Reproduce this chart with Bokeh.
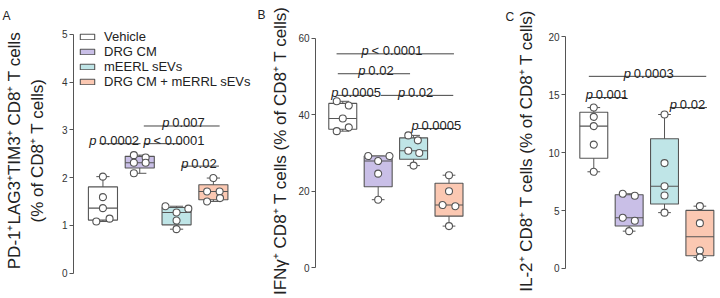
import numpy as np
from bokeh.plotting import figure
from bokeh.layouts import row
from bokeh.models import FixedTicker, Legend, LegendItem, Title, Range1d
from bokeh.core.properties import value
from bokeh.embed import file_html
from bokeh.resources import INLINE

FONT = "Liberation Sans"

# ---------------- data ----------------
groups = ["Vehicle", "DRG CM", "mEERL sEVs", "DRG CM + mERRL sEVs"]
colors = ["#ffffff", "#c9bfe7", "#bfe5e7", "#fbc8b2"]

# Panel A
a_vehicle = [2.02, 1.59, 1.36, 1.08, 1.14]
a_drg = [2.47, 2.42, 2.31, 2.31, 2.09]
a_meerl = [1.40, 1.35, 1.27, 1.10, 0.92]
a_combo = [1.99, 1.71, 1.71, 1.57, 1.50]
a_ticks = [0, 1, 2, 3, 4, 5]
a_pvalues = ["0.0002", "< 0.0001", "0.007", "0.02"]
a_ylabel = "PD-1\u207aLAG3\u207aTIM3\u207a CD8\u207a T cells\n(% of CD8\u207a T cells)"

# Panel B
b_vehicle = [43.5, 42.4, 39.0, 36.7, 35.7]
b_drg = [29.2, 29.2, 27.9, 24.6, 17.8]
b_meerl = [34.6, 33.3, 30.6, 30.0, 26.7]
b_combo = [24.2, 20.0, 16.4, 16.1, 10.9]
b_ticks = [0, 20, 40, 60]
b_pvalues = ["< 0.0001", "0.02", "0.0005", "0.02", "0.0005"]
b_ylabel = "IFN\u03b3\u207a CD8\u207a T cells (% of CD8\u207a T cells)"

# Panel C
c_vehicle = [13.9, 13.1, 12.3, 10.7, 8.35]
c_drg = [6.45, 6.28, 4.38, 4.12, 3.22]
c_meerl = [13.3, 9.1, 7.1, 6.3, 4.82]
c_combo = [5.38, 3.91, 1.55, 0.95]
c_ticks = [0, 5, 10, 15, 20]
c_pvalues = ["0.0003", "0.001", "0.02"]
c_ylabel = "IL-2\u207a CD8\u207a T cells (% of CD8\u207a T cells)"

# ---------------- layout (positions only) ----------------
a_jitter = [[0, 0, 0, -0.18, 0.18], [-0.16, 0.16, -0.16, 0.16, -0.16],
            [-0.3, 0.32, 0, 0, 0], [0, -0.17, 0.17, 0.18, -0.17]]
b_jitter = [[-0.17, 0.17, 0, 0.17, -0.17], [-0.28, 0.32, 0, 0, 0],
            [-0.15, 0.12, -0.15, 0.16, 0], [0, 0, -0.18, 0.18, 0]]
c_jitter = [[0, 0, 0, 0, 0], [-0.18, 0.16, -0.18, 0.16, 0],
            [0, 0, 0, 0, 0], [0, 0, 0, 0]]

# (x0, x1, y, text_x) for each p-value bracket
a_brackets = [(0.905, 2.02, 2.71, 0.63), (2.11, 3.15, 2.71, 2.10),
              (2.11, 4.17, 3.08, 2.61), (3.13, 4.15, 2.24, 3.13)]
b_brackets = [(0.825, 4.14, 55.9, 1.53), (0.86, 2.9, 50.7, 1.44),
              (0.845, 1.9, 45.05, 0.675), (2.07, 4.12, 45.05, 2.56),
              (3.12, 4.19, 36.4, 2.94)]
c_brackets = [(0.86, 4.18, 16.6, 1.85), (0.86, 1.92, 14.77, 0.77),
              (3.15, 4.2, 13.9, 3.15)]

EDGE = "#555555"
TOP, BOTTOM = 26, 25


def make_panel(series, jitter, ticks, ylim, ylabel, pvalues, brackets, width,
               border_left, border_right, xr, label_standoff, letter, letter_offset,
               letter_standoff, legend=False):
    p = figure(width=width, height=298, output_backend="svg", toolbar_location=None,
               x_axis_location=None, x_range=Range1d(*xr), y_range=Range1d(*ylim),
               min_border_left=border_left, min_border_right=border_right,
               min_border_top=TOP, min_border_bottom=BOTTOM)
    p.outline_line_color = None
    p.grid.visible = False
    p.background_fill_color = "white"
    p.border_fill_color = "white"

    xs = list(range(1, len(series) + 1))
    q1s, meds, q3s, mins, maxs = [], [], [], [], []
    for vals in series:
        q1, md, q3 = np.percentile(vals, [25, 50, 75], method="weibull")
        q1s.append(q1); meds.append(md); q3s.append(q3)
        mins.append(min(vals)); maxs.append(max(vals))

    bw = 0.79
    cw = 0.18
    p.segment(x0=xs, y0=mins, x1=xs, y1=maxs, line_color=EDGE, line_width=1)
    p.segment(x0=[x - cw for x in xs], y0=mins, x1=[x + cw for x in xs], y1=mins,
              line_color=EDGE, line_width=1)
    p.segment(x0=[x - cw for x in xs], y0=maxs, x1=[x + cw for x in xs], y1=maxs,
              line_color=EDGE, line_width=1)
    boxes = p.vbar(x=xs, bottom=q1s, top=q3s, width=bw, fill_color=colors[:len(series)],
                   line_color=EDGE, line_width=1.1)
    p.segment(x0=[x - bw / 2 for x in xs], y0=meds, x1=[x + bw / 2 for x in xs], y1=meds,
              line_color=EDGE, line_width=1.1)

    px, py = [], []
    for i, vals in enumerate(series):
        for v, j in zip(vals, jitter[i]):
            px.append(xs[i] + j)
            py.append(v)
    p.scatter(px, py, size=7, marker="circle", fill_color="white",
              line_color=EDGE, line_width=1.1)

    for (x0, x1, y, tx), pv in zip(brackets, pvalues):
        p.segment(x0=[x0], y0=[y], x1=[x1], y1=[y], line_color="#444444", line_width=1)
        p.text(x=[tx], y=[y], text=["p"], text_font=value(FONT), text_font_style="italic",
               text_font_size="13px", text_color="#222222", text_baseline="alphabetic",
               text_align="left", y_offset=-3)
        p.text(x=[tx], y=[y], text=[pv], text_font=value(FONT), text_font_style="normal",
               text_font_size="13px", text_color="#222222", text_baseline="alphabetic",
               text_align="left", x_offset=10, y_offset=-3)

    ax = p.yaxis[0]
    ax.ticker = FixedTicker(ticks=ticks)
    ax.bounds = (ticks[0], ticks[-1])
    ax.minor_tick_line_color = None
    ax.major_tick_in = 0
    ax.major_tick_out = 4
    ax.axis_line_color = EDGE
    ax.major_tick_line_color = EDGE
    ax.major_label_text_font = FONT
    ax.major_label_text_font_size = "10px"
    ax.major_label_text_color = "#333333"
    ax.major_label_standoff = 2
    ax.axis_label = ylabel
    ax.axis_label_text_font = FONT
    ax.axis_label_text_font_size = "17px"
    ax.axis_label_text_font_style = "normal"
    ax.axis_label_text_color = "#222222"
    ax.axis_label_standoff = label_standoff

    p.add_layout(Title(text=letter, align="left", offset=letter_offset,
                       standoff=letter_standoff, text_font=FONT, text_font_size="12px",
                       text_font_style="normal", text_color="#222222"), "above")

    if legend:
        items = [LegendItem(label=g, renderers=[boxes], index=i) for i, g in enumerate(groups)]
        lg = Legend(items=items, location=(5, 184), orientation="vertical",
                    glyph_width=18, glyph_height=7, label_standoff=8, label_height=15,
                    spacing=0, padding=0, margin=0, border_line_color=None,
                    background_fill_alpha=0, label_text_font=FONT,
                    label_text_font_size="13px", label_text_color="#222222")
        p.add_layout(lg, "center")
    return p


pa = make_panel([a_vehicle, a_drg, a_meerl, a_combo], a_jitter, a_ticks, (-0.008, 5.142),
                a_ylabel, a_pvalues, a_brackets, 255, 73, 2, (0.2, 5.09), 12, "A",
                -71, 9, legend=True)
pb = make_panel([b_vehicle, b_drg, b_meerl, b_combo], b_jitter, b_ticks, (-1.48, 62.78),
                b_ylabel, b_pvalues, b_brackets, 240, 60, 4, (0.23, 5.2), 5, "B",
                -58, 11)
pc = make_panel([c_vehicle, c_drg, c_meerl, c_combo], c_jitter, c_ticks, (-0.44, 20.82),
                c_ylabel, c_pvalues, c_brackets, 225, 70, 4, (0.2, 4.47), 9, "C",
                -60, 7)

layout = row(pa, pb, pc)
open("out.html", "w").write(file_html(layout, INLINE))
